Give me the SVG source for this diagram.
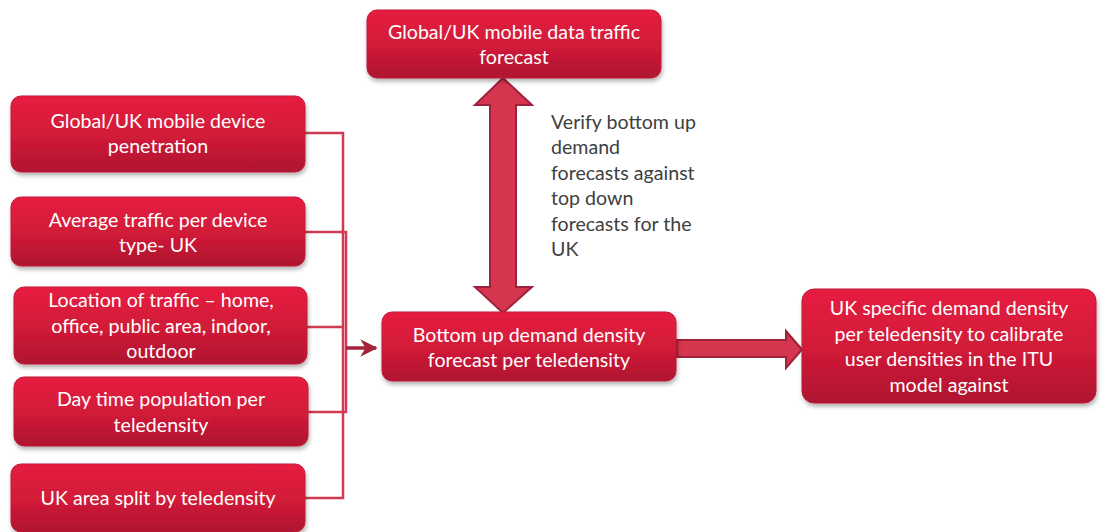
<svg xmlns="http://www.w3.org/2000/svg" width="1102" height="532" viewBox="0 0 1102 532">
<defs>
<linearGradient id="g" x1="0" y1="0" x2="0" y2="1">
<stop offset="0" stop-color="#e61d40"/>
<stop offset="0.55" stop-color="#d01a38"/>
<stop offset="1" stop-color="#ae1430"/>
</linearGradient>
<filter id="sh" x="-10%" y="-10%" width="120%" height="130%">
<feDropShadow dx="1" dy="3" stdDeviation="2" flood-color="#000" flood-opacity="0.3"/>
</filter>
<marker id="ah" markerWidth="6" markerHeight="6" refX="4.5" refY="3" orient="auto" markerUnits="strokeWidth">
<path d="M0,0.5 L5,3 L0,5.5 L1.5,3 Z" fill="#a4233b"/>
</marker>
</defs>
<style>
.box{fill:url(#g);stroke:#c01a36;stroke-width:1;filter:url(#sh)}
.t{font-family:Lato,"Open Sans",sans-serif;font-size:19.6px;fill:#fff;text-anchor:middle}
.n{font-family:Lato,"Open Sans",sans-serif;font-size:19.6px;fill:#404040}
.c{fill:none;stroke:#d13a52;stroke-width:2.5}
.blk{fill:#d4354f;stroke:#a0223a;stroke-width:2;stroke-linejoin:miter}
</style>
<g id="connectors">
<path class="c" d="M305,133 H343 V498 H305"/>
<path class="c" d="M305,232 H346 V412 H308"/>
<path class="c" d="M307,327 H343"/>
<path d="M346,348 H376" fill="none" stroke="#a4233b" stroke-width="3.5" marker-end="url(#ah)"/>
<path class="blk" d="M503,78 L532,105 L516,105 L516,287 L532,287 L503,313 L475,287 L490,287 L490,105 L475,105 Z"/>
<path class="blk" d="M677,340 L786,340 L786,331 L802,349.5 L786,368 L786,357 L677,357 Z"/>
</g>
<g id="top">
<rect class="box" x="367" y="10" width="294" height="68" rx="10"/>
<text class="t" x="514" y="39">Global/UK mobile data traffic</text>
<text class="t" x="514" y="64">forecast</text>
</g>
<g id="b1">
<rect class="box" x="11" y="96" width="294" height="76" rx="10"/>
<text class="t" x="158" y="128">Global/UK mobile device</text>
<text class="t" x="158" y="153">penetration</text>
</g>
<g id="b2">
<rect class="box" x="11" y="197" width="294" height="69" rx="10"/>
<text class="t" x="158" y="227">Average traffic per device</text>
<text class="t" x="158" y="252">type- UK</text>
</g>
<g id="b3">
<rect class="box" x="14" y="287" width="293" height="77" rx="10"/>
<text class="t" x="161" y="307">Location of traffic – home,</text>
<text class="t" x="161" y="333">office, public area, indoor,</text>
<text class="t" x="161" y="358">outdoor</text>
</g>
<g id="b4">
<rect class="box" x="14" y="377" width="294" height="69" rx="10"/>
<text class="t" x="161" y="406">Day time population per</text>
<text class="t" x="161" y="432">teledensity</text>
</g>
<g id="b5">
<rect class="box" x="11" y="464" width="294" height="68" rx="10"/>
<text class="t" x="158" y="505">UK area split by teledensity</text>
</g>
<g id="center">
<rect class="box" x="382" y="312" width="294" height="69" rx="10"/>
<text class="t" x="529" y="342">Bottom up demand density</text>
<text class="t" x="529" y="367">forecast per teledensity</text>
</g>
<g id="right">
<rect class="box" x="802" y="289" width="294" height="114" rx="12"/>
<text class="t" x="949" y="315">UK specific demand density</text>
<text class="t" x="949" y="341">per teledensity to calibrate</text>
<text class="t" x="949" y="366">user densities in the ITU</text>
<text class="t" x="949" y="392">model against</text>
</g>
<g id="note">
<text class="n" x="551" y="129">Verify bottom up</text>
<text class="n" x="551" y="154">demand</text>
<text class="n" x="551" y="180">forecasts against</text>
<text class="n" x="551" y="205">top down</text>
<text class="n" x="551" y="231">forecasts for the</text>
<text class="n" x="551" y="256">UK</text>
</g>
</svg>
